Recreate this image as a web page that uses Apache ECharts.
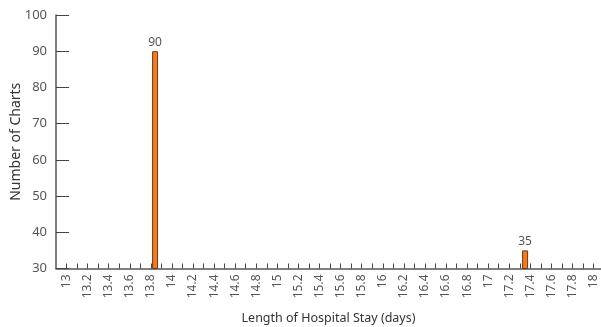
<!DOCTYPE html>
<html>
<head>
<meta charset="utf-8">
<script src="https://cdn.jsdelivr.net/npm/echarts@6/dist/echarts.min.js"></script>
<style>
  html, body { margin: 0; padding: 0; background: #fff; }
  #main { width: 601px; height: 327px; }
</style>
</head>
<body>
<div id="main"></div>
<script>
// data
var stayDays = [13.84, 17.35];
var chartCounts = [90, 35];
var xTickLabels = [13, 13.2, 13.4, 13.6, 13.8, 14, 14.2, 14.4, 14.6, 14.8, 15, 15.2, 15.4, 15.6, 15.8,
                   16, 16.2, 16.4, 16.6, 16.8, 17, 17.2, 17.4, 17.6, 17.8, 18];
var yTicks = [30, 40, 50, 60, 70, 80, 90, 100];

// minor ticks halfway between the labelled ones
var xTicks = [];
xTickLabels.forEach(function (v, i) {
    xTicks.push(v);
    if (i < xTickLabels.length - 1) xTicks.push(+(v + 0.1).toFixed(1));
});

var myChart = echarts.init(document.getElementById('main'));
var font = 'Noto Sans';
var grey = '#555';

var option = {
    backgroundColor: '#fff',
    animation: false,
    grid: { left: 56, right: 0, top: 15, bottom: 58.5, outerBoundsMode: 'none' },
    xAxis: {
        type: 'value',
        min: 12.9,
        max: 18.07,
        name: 'Length of Hospital Stay (days)',
        nameLocation: 'middle',
        nameGap: 43,
        nameMoveOverlap: false,
        nameTextStyle: { fontFamily: font, fontSize: 12.5, color: '#333' },
        axisLine: { show: true, lineStyle: { color: grey, width: 1.5 } },
        axisTick: { show: true, inside: true, length: 5, customValues: xTicks, lineStyle: { color: '#444' } },
        axisLabel: {
            customValues: xTickLabels,
            rotate: 90,
            fontFamily: font, fontSize: 12, color: grey, margin: 6
        },
        splitLine: { show: false }
    },
    yAxis: {
        type: 'value',
        min: 30,
        max: 100,
        interval: 10,
        name: 'Number of Charts',
        nameLocation: 'middle',
        nameGap: 33,
        nameMoveOverlap: false,
        nameTextStyle: { fontFamily: font, fontSize: 14, color: '#333' },
        axisLine: { show: true, lineStyle: { color: grey, width: 1.5 } },
        axisTick: { show: true, inside: true, length: 13, customValues: yTicks, lineStyle: { color: '#444' } },
        axisLabel: { fontFamily: font, fontSize: 13, color: grey, margin: 9 },
        splitLine: { show: false }
    },
    series: [{
        type: 'bar',
        barWidth: 6,
        data: stayDays.map(function (d, i) { return [d, chartCounts[i]]; }),
        itemStyle: { color: '#F47A20', borderColor: '#6b3a14', borderWidth: 1 },
        label: { show: true, position: 'top', distance: 3, fontFamily: font, fontSize: 12, color: grey }
    }]
};

myChart.setOption(option);
</script>
</body>
</html>
